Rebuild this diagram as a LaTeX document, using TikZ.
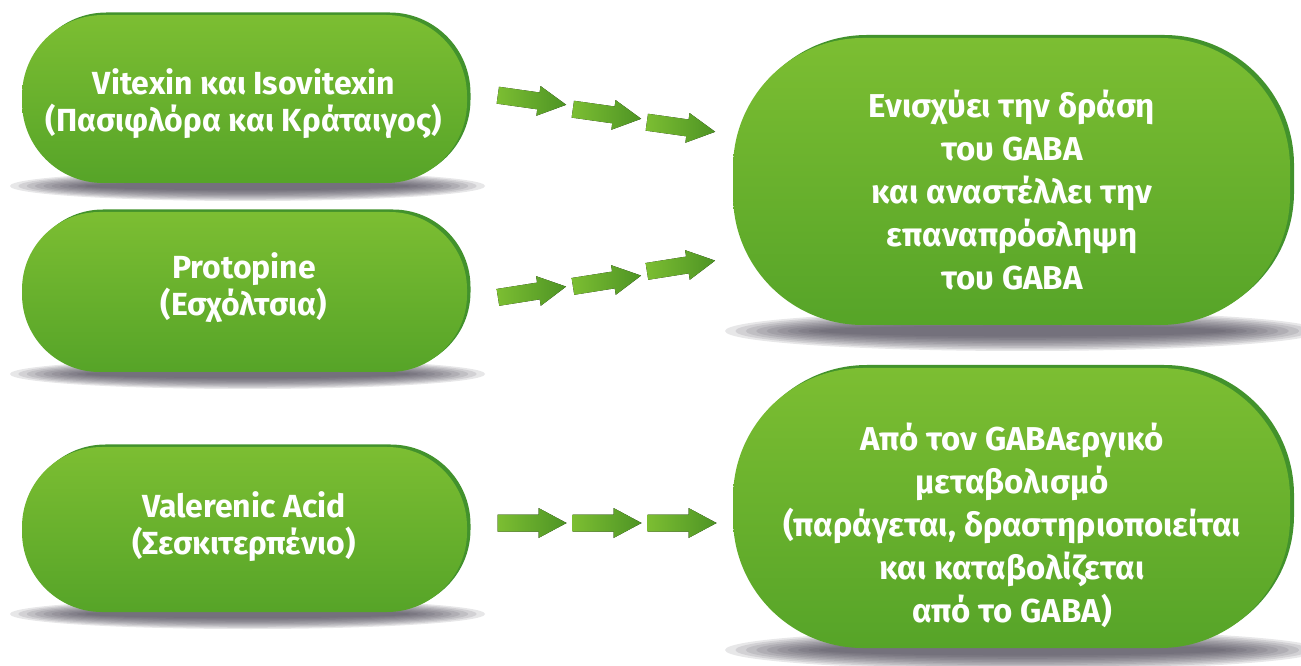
\documentclass[tikz,border=0pt]{standalone}
\usepackage{fontspec}
\setmainfont{Fira Sans}
\definecolor{gtop}{RGB}{124,190,50}
\definecolor{gbot}{RGB}{86,164,40}
\definecolor{grim}{RGB}{66,146,44}
\definecolor{shad}{RGB}{70,66,80}
\tikzset{
  pill/.style={rectangle, rounded corners=#1, top color=gtop, bottom color=gbot, inner sep=0pt},
  pillrim/.style={rectangle, rounded corners=#1, fill=grim, inner sep=0pt},
  lbl/.style={text=white, font=\bfseries\fontsize{18.2}{21}\selectfont, align=center, inner sep=0pt},
  rlbl/.style={text=white, font=\bfseries\fontsize{18.8}{24.5}\selectfont, align=center, inner sep=0pt},
  blockarrow/.pic={\fill[left color=gtop, right color=gbot!90!black]
     (-0.69,0.17)--(0.13,0.17)--(0.13,0.30)--(0.69,0)--(0.13,-0.30)--(0.13,-0.17)--(-0.69,-0.17)--cycle;}
}
\newcommand\pillshadow[4]{% x, y, rx, ry
  \foreach \k in {0,...,9}{
    \fill[shad, opacity=0.13] (#1,#2) ellipse [x radius={#3-\k*0.035*#3}, y radius={#4-\k*0.08*#4}];
  }}
\begin{document}
\begin{tikzpicture}
\useasboundingbox (0,0) rectangle (26.02,-13.32);

% shadows
\pillshadow{4.95}{-3.72}{4.75}{0.3}
\pillshadow{4.95}{-7.48}{4.75}{0.3}
\pillshadow{4.95}{-12.28}{4.75}{0.3}
\pillshadow{20.45}{-6.62}{5.95}{0.4}
\pillshadow{20.45}{-13.00}{5.95}{0.4}

% left pills
\node[pillrim=1.62cm, minimum width=8.9cm, minimum height=3.36cm] (l1r) at (4.96,-1.93) {};
\node[pill=1.62cm, minimum width=8.9cm, minimum height=3.36cm] (l1) at (4.89,-1.98) {};
\node[pillrim=1.55cm, minimum width=8.9cm, minimum height=3.2cm] (l2r) at (4.96,-5.79) {};
\node[pill=1.55cm, minimum width=8.9cm, minimum height=3.2cm] (l2) at (4.89,-5.84) {};
\node[pillrim=1.6cm, minimum width=8.9cm, minimum height=3.3cm] (l3r) at (4.96,-10.54) {};
\node[pill=1.6cm, minimum width=8.9cm, minimum height=3.3cm] (l3) at (4.89,-10.59) {};

% right pills
\node[pillrim=2.6cm, minimum width=11.14cm, minimum height=5.74cm] (r1r) at (20.31,-3.57) {};
\node[pill=2.6cm, minimum width=11.14cm, minimum height=5.74cm] (r1) at (20.23,-3.63) {};
\node[pillrim=2.6cm, minimum width=11.14cm, minimum height=5.6cm] (r2r) at (20.31,-10.10) {};
\node[pill=2.6cm, minimum width=11.14cm, minimum height=5.6cm] (r2) at (20.23,-10.16) {};

% texts
\node[lbl] (t1) at (4.88,-2.08) {Vitexin και Isovitexin\\(Πασιφλόρα και Κράταιγος)};
\node[lbl] (t2) at (4.88,-5.76) {Protopine\\(Εσχόλτσια)};
\node[lbl] (t3) at (4.88,-10.54) {Valerenic Acid\\(Σεσκιτερπένιο)};
\node[rlbl] (t4) at (20.24,-3.80) {Ενισχύει την δράση\\του GABA\\και αναστέλλει την\\επαναπρόσληψη\\του GABA};
\node[rlbl] (t5) at (20.24,-10.50) {Από τον GABAεργικό\\μεταβολισμό\\(παράγεται, δραστηριοποιείται\\και καταβολίζεται\\από το GABA)};

% arrows
\pic[rotate=-8] at (10.64,-2.00) {blockarrow};
\pic[rotate=-8] at (12.14,-2.28) {blockarrow};
\pic[rotate=-8] at (13.62,-2.54) {blockarrow};
\pic[rotate=9] at (10.64,-5.84) {blockarrow};
\pic[rotate=9] at (12.14,-5.62) {blockarrow};
\pic[rotate=9] at (13.62,-5.32) {blockarrow};
\pic at (10.64,-10.46) {blockarrow};
\pic at (12.14,-10.46) {blockarrow};
\pic at (13.64,-10.46) {blockarrow};
\end{tikzpicture}
\end{document}
